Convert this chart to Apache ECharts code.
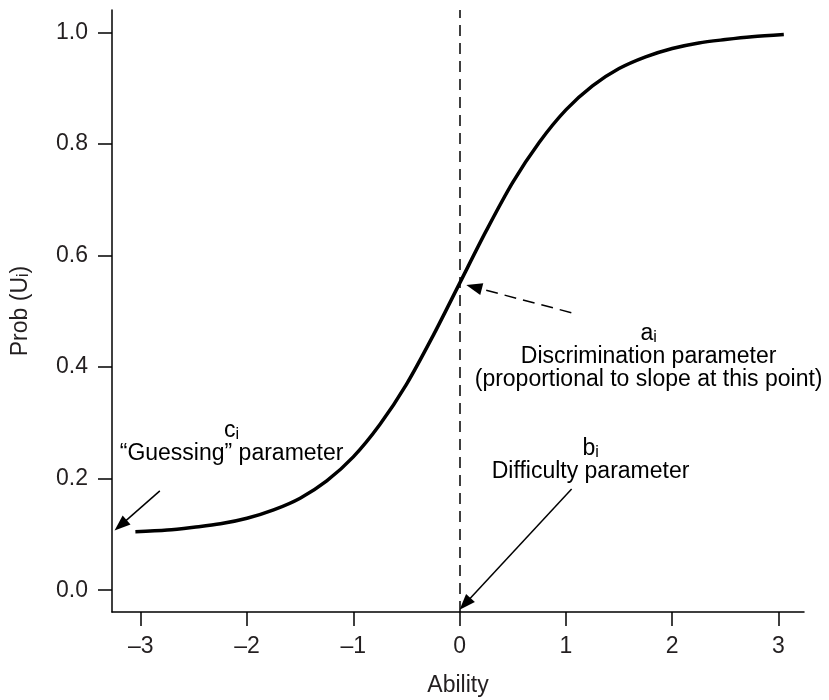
<!DOCTYPE html>
<html>
<head>
<meta charset="utf-8">
<script src="https://cdn.jsdelivr.net/npm/echarts@6/dist/echarts.min.js"></script>
<style>
  html, body { margin: 0; padding: 0; background: #fff; }
  #main { width: 829px; height: 700px; }
</style>
</head>
<body>
<div id="main"></div>
<script>
  // tick labels
  var abilityTicks = [-3, -2, -1, 0, 1, 2, 3]
  var probTicks = [0, 0.2, 0.4, 0.6, 0.8, 1.0]

  // item characteristic curve
  var ability = [-3.05, -2.75, -2.5, -2.25, -2, -1.75, -1.5, -1.25, -1, -0.75, -0.5, -0.25,
    0, 0.25, 0.5, 0.75, 1, 1.25, 1.5, 1.75, 2, 2.25, 2.5, 2.75, 3.05]
  var prob = [0.105, 0.108, 0.113, 0.119, 0.129, 0.144, 0.165, 0.196, 0.239, 0.297, 0.369, 0.456,
    0.55, 0.644, 0.731, 0.803, 0.861, 0.904, 0.935, 0.956, 0.971, 0.981, 0.987, 0.992, 0.996]

  // difficulty b_i (dashed vertical line)
  var difficulty = 0

  // arrows in data units: [fromX, fromY, toX, toY]
  var arrowGuess = [-2.82, 0.178, -3.246, 0.107]
  var arrowSlope = [1.051, 0.4975, 0.063, 0.547]
  var arrowDiff = [1.054, 0.1815, 0.0, -0.035]

  // annotation text anchors (block centres, data units)
  var noteGuess = [-2.145, 0.265]
  var noteSlope = [1.778, 0.4186]
  var noteDiff = [1.232, 0.2326]

  var FONT = '"Liberation Sans", Arial, Helvetica, sans-serif'
  var INK = '#231f20'

  var chart = echarts.init(document.getElementById('main'))

  var points = ability.map(function (x, i) { return [x, prob[i]] })

  chart.setOption({
    animation: false,
    grid: { left: 112, right: 25, top: 10, bottom: 88, outerBoundsMode: 'none' },
    xAxis: {
      type: 'value',
      min: -3.27,
      max: 3.24,
      name: 'Ability',
      nameLocation: 'middle',
      nameGap: 62,
      nameTextStyle: { fontFamily: FONT, fontSize: 23, color: INK },
      axisLine: { show: true, onZero: false, lineStyle: { color: '#000', width: 1.5 } },
      axisTick: { show: true, length: 14, lineStyle: { color: '#000', width: 1.5 }, customValues: abilityTicks },
      axisLabel: {
        customValues: abilityTicks,
        margin: 23,
        fontFamily: FONT,
        fontSize: 23,
        color: INK,
        formatter: function (v) { return String(v).replace('-', '\u2013') }
      },
      splitLine: { show: false }
    },
    yAxis: {
      type: 'value',
      min: -0.039,
      max: 1.04,
      name: '{t|Prob (U}{s|i}{t|)}',
      nameLocation: 'middle',
      nameRotate: 90,
      nameGap: 80,
      nameTextStyle: {
        rich: {
          t: { fontFamily: FONT, fontSize: 23, color: INK, lineHeight: 23, verticalAlign: 'bottom' },
          s: { fontFamily: FONT, fontSize: 16, color: INK, lineHeight: 10, verticalAlign: 'bottom' }
        }
      },
      axisLine: { show: true, onZero: false, lineStyle: { color: '#000', width: 1.5 } },
      axisTick: { show: true, length: 14, lineStyle: { color: '#000', width: 1.5 }, customValues: probTicks },
      axisLabel: {
        customValues: probTicks,
        margin: 24,
        fontFamily: FONT,
        fontSize: 23,
        color: INK,
        formatter: function (v) { return v.toFixed(1) }
      },
      splitLine: { show: false }
    },
    series: [{
      type: 'line',
      data: points,
      smooth: 0.3,
      showSymbol: false,
      silent: true,
      lineStyle: { color: '#000', width: 3.5 },
      markLine: {
        silent: true,
        symbol: 'none',
        label: { show: false },
        emphasis: { disabled: true },
        lineStyle: { color: '#000', width: 1.5, type: [11, 7] },
        data: [{ xAxis: difficulty }]
      }
    }]
  })

  function px (p) {
    return chart.convertToPixel({ gridIndex: 0 }, p)
  }

  function arrow (a, dashed) {
    var from = px([a[0], a[1]])
    var to = px([a[2], a[3]])
    var dx = to[0] - from[0]
    var dy = to[1] - from[1]
    var len = Math.sqrt(dx * dx + dy * dy)
    var ux = dx / len
    var uy = dy / len
    var headLen = 16
    var headHalf = 6
    var bx = to[0] - ux * headLen
    var by = to[1] - uy * headLen
    return [{
      type: 'line',
      silent: true,
      shape: { x1: from[0], y1: from[1], x2: bx + ux * 2, y2: by + uy * 2 },
      style: { stroke: '#000', lineWidth: 1.5, lineDash: dashed ? [12, 7] : null }
    }, {
      type: 'polygon',
      silent: true,
      shape: {
        points: [
          [to[0], to[1]],
          [bx - uy * headHalf, by + ux * headHalf],
          [bx + uy * headHalf, by - ux * headHalf]
        ]
      },
      style: { fill: '#000' }
    }]
  }

  var rich = {
    m: { fontFamily: FONT, fontSize: 23, color: INK, lineHeight: 23, verticalAlign: 'bottom' },
    s: { fontFamily: FONT, fontSize: 16, color: INK, lineHeight: 10, verticalAlign: 'bottom' }
  }

  function note (anchor, text) {
    var p = px(anchor)
    return {
      type: 'text',
      silent: true,
      x: p[0],
      y: p[1],
      style: { text: text, rich: rich, align: 'center', verticalAlign: 'middle' }
    }
  }

  var elements = []
    .concat(arrow(arrowGuess, false))
    .concat(arrow(arrowSlope, true))
    .concat(arrow(arrowDiff, false))
  elements.push(note(noteGuess, '{m|c}{s|i}\n{m|\u201cGuessing\u201d parameter}'))
  elements.push(note(noteSlope, '{m|a}{s|i}\n{m|Discrimination parameter}\n{m|(proportional to slope at this point)}'))
  elements.push(note(noteDiff, '{m|b}{s|i}\n{m|Difficulty parameter}'))

  chart.setOption({ graphic: { elements: elements } })
</script>
</body>
</html>
